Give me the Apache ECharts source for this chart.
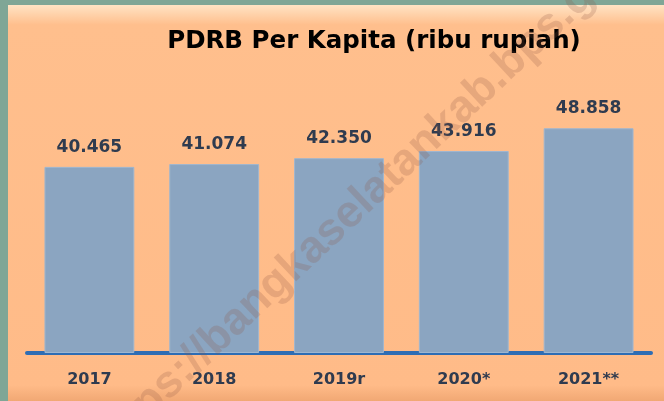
<!DOCTYPE html>
<html>
<head>
<meta charset="utf-8">
<style>
  html, body { margin: 0; padding: 0; background: #7fa696; }
  #chart { width: 664px; height: 401px; }
</style>
<script src="https://cdn.jsdelivr.net/npm/echarts@6/dist/echarts.min.js"></script>
</head>
<body>
<div id="chart"></div>
<script>
const years = ["2017", "2018", "2019r", "2020*", "2021**"];
const pdrbPerKapita = [40.465, 41.074, 42.35, 43.916, 48.858];

const labelColor = "#2f3b4f";
const boldFont = "'DejaVu Sans', Verdana, sans-serif";

const chart = echarts.init(document.getElementById("chart"));

chart.setOption({
  backgroundColor: "#7fa696",
  animation: false,
  graphic: [
    {
      type: "rect",
      z: -10,
      shape: { x: 8, y: 5, width: 656, height: 396 },
      style: {
        fill: {
          type: "linear", x: 0, y: 0, x2: 0, y2: 1,
          colorStops: [
            { offset: 0, color: "#ffe3c4" },
            { offset: 0.05, color: "#ffbf8d" },
            { offset: 0.96, color: "#ffbb88" },
            { offset: 1, color: "#f1a874" }
          ]
        }
      }
    },
    {
      // site watermark, lies over the bars
      type: "text",
      z: 100,
      x: 372,
      y: 193,
      rotation: Math.PI * 0.24,
      style: {
        text: "https://bangkaselatankab.bps.go.id",
        font: "bold 45px Arial, 'Liberation Sans', sans-serif",
        fill: "rgba(140, 85, 70, 0.22)",
        align: "center",
        verticalAlign: "middle"
      }
    }
  ],
  title: {
    text: "PDRB Per Kapita (ribu rupiah)",
    left: 369,
    top: 24,
    textAlign: "center",
    textStyle: {
      fontFamily: boldFont,
      fontSize: 24.5,
      fontWeight: "bold",
      color: "#000"
    }
  },
  grid: { left: 27, right: 13, top: 77, bottom: 48, containLabel: false },
  xAxis: {
    type: "category",
    data: years,
    axisLine: { show: true, lineStyle: { color: "#2e6db4", width: 4 } },
    axisTick: { show: false },
    axisLabel: {
      margin: 19,
      fontFamily: boldFont,
      fontSize: 16,
      fontWeight: "bold",
      color: labelColor
    }
  },
  yAxis: {
    type: "value",
    min: 0,
    max: 60,
    show: false,
    splitLine: { show: false }
  },
  series: [
    {
      type: "bar",
      data: pdrbPerKapita,
      barWidth: "72%",
      itemStyle: { color: "#8ba5c1", borderColor: "#9fb6cf", borderWidth: 1 },
      label: {
        show: true,
        position: "top",
        distance: 11,
        formatter: (p) => p.value.toFixed(3),
        fontFamily: boldFont,
        fontSize: 17,
        fontWeight: "bold",
        color: labelColor
      }
    }
  ]
});
</script>
</body>
</html>
